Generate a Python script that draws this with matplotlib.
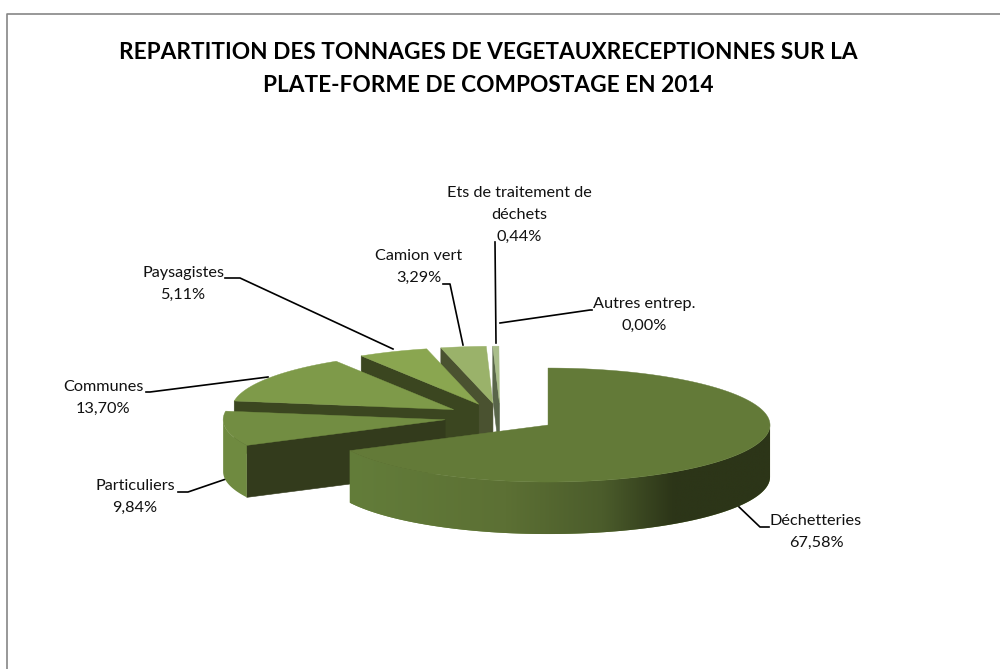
import numpy as np
import matplotlib
matplotlib.use('Agg')
import matplotlib.pyplot as plt
from matplotlib.colors import to_rgb
from matplotlib.patches import Polygon

categories = ['Déchetteries', 'Particuliers', 'Communes', 'Paysagistes', 'Camion vert',
              'Ets de traitement de\ndéchets', 'Autres entrep.']
percents = [67.58, 9.84, 13.70, 5.11, 3.29, 0.44, 0.00]
title = 'REPARTITION DES TONNAGES DE VEGETAUXRECEPTIONNES SUR LA\nPLATE-FORME DE COMPOSTAGE EN 2014'

# styling per slice
top_colors = ['#637a38', '#728d42', '#7e9a49', '#8aa650', '#9ab26a', '#a9bd8a', '#c9d6b5']
wall_colors = ['#637a38', '#333b1c', '#3b4620', '#3b4620', '#4a5230', '#59664a', '#59664a']
rim_stops = [0, 0.37, 0.6, 0.77, 1]
rim_stop_colors = ['#637d3a', '#5c7034', '#4b5c2b', '#2c3518', '#2c3518']

# layout, in image pixels
CX, CY = 500.4, 417.5
RX, RY = 222, 57
DEPTH = 52
EXPLODE = 0.252

# leader lines and label centres, same order as categories
leaders = [[(737, 505), (760, 527), (769, 527)],
           [(226, 479), (188, 492), (178, 492)],
           [(268, 377), (150, 392), (146, 392)],
           [(393, 349), (240, 278), (225, 278)],
           [(463, 345), (450, 284), (443, 284)],
           [(496, 343), (495, 242)],
           [(500, 323), (590, 310), (592, 310)]]
label_xy = [(816, 532), (135, 497), (103, 398), (183, 284), (419, 267), (519, 215), (644, 315)]


def ellipse(tip, theta):
    theta = np.radians(theta)
    return np.column_stack([tip[0] + RX * np.sin(theta), tip[1] - RY * np.cos(theta)])


def draw_rim(ax, pts, gradient, flat, zorder):
    poly = Polygon(np.vstack([pts, pts[::-1] + [0, DEPTH]]), fc=flat, ec='none', zorder=zorder)
    ax.add_patch(poly)
    if not gradient:
        return
    x0, x1 = pts[:, 0].min(), pts[:, 0].max()
    frac = np.linspace(0, 1, 512)
    rgb = np.array([to_rgb(c) for c in rim_stop_colors])
    img = np.stack([np.interp(frac, rim_stops, rgb[:, i]) for i in range(3)], axis=-1)[None, :, :]
    y0, y1 = pts[:, 1].min(), pts[:, 1].max() + DEPTH
    im = ax.imshow(img, extent=(x0, x1, y1, y0), aspect='auto', zorder=zorder + 0.1,
                   interpolation='bilinear')
    im.set_clip_path(poly)


def draw_slice(ax, start, end, top, wall, zorder):
    mid = np.radians((start + end) / 2)
    tip = (CX + EXPLODE * RX * np.sin(mid), CY - EXPLODE * RY * np.cos(mid))
    arc = ellipse(tip, np.linspace(start, end, 200))

    # radial wall, only seen on the left half
    if start > 180:
        c = arc[0]
        quad = [tip, c, (c[0], c[1] + DEPTH), (tip[0], tip[1] + DEPTH)]
        ax.add_patch(Polygon(quad, fc=wall, ec=wall, lw=0.4, zorder=zorder))

    # outer rim, front half only
    lo, hi = max(start, 90), min(end, 270)
    if hi > lo:
        draw_rim(ax, ellipse(tip, np.linspace(lo, hi, 200)), start < 90, '#6f8a40', zorder)

    # top face
    ax.add_patch(Polygon(np.vstack([[tip], arc]), fc=top, ec=top, lw=0.3, zorder=zorder + 0.5))


fig = plt.figure(figsize=(10, 6.69), dpi=100)
ax = fig.add_axes([0, 0, 1, 1])
ax.axis('off')

# chart frame runs off the picture on the right and at the bottom
ax.plot([6.5, 6.5, 1001], [670, 13.5, 13.5], color='#868686', lw=1.2, zorder=1)

edges = np.concatenate([[0], np.cumsum(percents)]) * 3.6
for i in range(len(percents) - 1, -1, -1):
    if percents[i] > 0:
        draw_slice(ax, edges[i], edges[i + 1], top_colors[i], wall_colors[i], 2 + (len(percents) - i))

for line in leaders:
    xs, ys = zip(*line)
    ax.plot(xs, ys, color='black', lw=1.2, zorder=1.5)

for name, pct, (x, y) in zip(categories, percents, label_xy):
    text = f'{name}\n' + f'{pct:.2f}%'.replace('.', ',')
    ax.text(x, y, text, ha='center', va='center', fontsize=11.7, family='Lato',
            color='#111111', linespacing=1.7)

ax.text(488, 69, title, ha='center', va='center', fontsize=16.3, fontweight='bold',
        family='Lato', color='black', linespacing=1.65)

ax.set_xlim(0, 1000)
ax.set_ylim(669, 0)
fig.savefig('out.png', dpi=100)
